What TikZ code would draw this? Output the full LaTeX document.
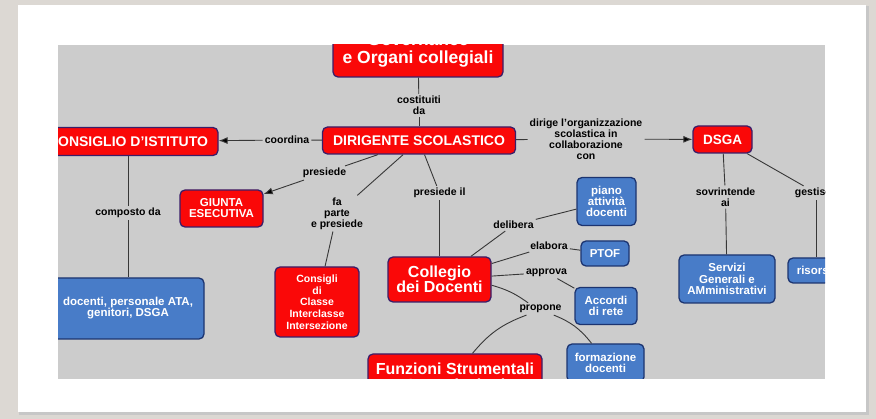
\documentclass[tikz,border=0pt]{standalone}
\usepackage{fontspec}
\setmainfont{Liberation Sans}
\usetikzlibrary{arrows.meta}
\definecolor{rosso}{RGB}{250,8,8}
\definecolor{blu}{RGB}{72,124,200}
\definecolor{bordo}{RGB}{58,30,105}
\definecolor{bordoblu}{RGB}{28,52,112}
\definecolor{sfondo}{RGB}{204,204,204}
\definecolor{linea}{RGB}{55,55,55}
\definecolor{cornice}{RGB}{220,216,211}
\tikzstyle{every picture}+=[>={Latex[length=9pt,width=7pt]}]
\tikzstyle{every picture}+=[line join=round]
\tikzstyle{organo}+=[draw=bordo, fill=rosso, text=white]
\tikzstyle{organo}+=[rounded corners=5pt, line width=1.3pt]
\tikzstyle{organo}+=[align=center, inner sep=0pt]
\tikzstyle{risorsa}+=[organo, draw=bordoblu, fill=blu]
\tikzstyle{legame}+=[align=center, inner sep=2pt]
\tikzstyle{legame}+=[font=\bfseries\fontsize{10.5}{11}\selectfont]
\tikzstyle{link}+=[draw=linea, line width=0.9pt]
\newcommand{\fsize}[2]{\bfseries\fontsize{#1}{#2}\selectfont}

\begin{document}
\begin{tikzpicture}[x=1pt,y=-1pt]
\useasboundingbox (0,0) rectangle (876,419);
% cornice della slide
\fill[cornice] (0,0) rectangle (876,419);
\fill[black!22] (19,6) rectangle (869,415);
\fill[white] (18,5) rectangle (866,412);
\fill[sfondo] (58,45) rectangle (825,379);

\begin{scope}
\clip (58,45) rectangle (825,379);
% organi
\node[organo, minimum width=170pt, minimum height=54pt, font=\fsize{17.5}{18}] (gov) at (418,50) {Governance\\e Organi collegiali};
\node[organo, minimum width=193pt, minimum height=27pt, font=\fsize{14}{15}] (dir) at (419,140.5) {DIRIGENTE SCOLASTICO};
\node[organo, minimum width=180pt, minimum height=28pt, font=\fsize{14}{15}] (cdi) at (128,141.5) {CONSIGLIO D'ISTITUTO};
\node[organo, minimum width=59pt, minimum height=27pt, font=\fsize{13.5}{14}] (dsga) at (722.5,139.5) {DSGA};
\node[organo, minimum width=83pt, minimum height=37pt, font=\fsize{11.5}{11}] (giunta) at (221.5,208.5) {GIUNTA\\ESECUTIVA};
\node[organo, minimum width=84pt, minimum height=70pt, font=\fsize{10.5}{11.7}] (consigli) at (317,302) {Consigli\\di\\Classe\\Interclasse\\Intersezione};
\node[organo, minimum width=103pt, minimum height=45pt, font=\fsize{16}{15}] (collegio) at (439.5,279.5) {Collegio\\dei Docenti};
\node[organo, minimum width=174pt, minimum height=46pt, font=\fsize{16}{16}] (funz) at (455,377) {Funzioni Strumentali\\Commissioni};

% ambiti
\node[risorsa, minimum width=152pt, minimum height=61pt, font=\fsize{11.5}{11}] (docenti) at (128,308.5) {docenti, personale ATA,\\genitori, DSGA};
\node[risorsa, minimum width=59pt, minimum height=48pt, font=\fsize{11.5}{11.3}] (piano) at (606.5,201.5) {piano\\attività\\docenti};
\node[risorsa, minimum width=48pt, minimum height=25pt, font=\fsize{11.5}{11}] (ptof) at (605,253.5) {PTOF};
\node[risorsa, minimum width=62pt, minimum height=37pt, font=\fsize{11.5}{11}] (accordi) at (606,306) {Accordi\\di rete};
\node[risorsa, minimum width=77pt, minimum height=38pt, font=\fsize{11.5}{11}] (formaz) at (605.5,363) {formazione\\docenti};
\node[risorsa, minimum width=96pt, minimum height=48pt, font=\fsize{11.5}{11.4}] (servizi) at (727,279) {Servizi\\Generali e\\AMministrativi};
\node[risorsa, minimum width=56pt, minimum height=25pt, font=\fsize{11.5}{11}] (risorse) at (816,270.5) {risorse};

% legami
\node[legame] (costituiti) at (419,105.5) {costituiti\\da};
\node[legame] (coordina) at (287,140) {coordina};
\node[legame] (dirige) at (586,139) {dirige l'organizzazione\\scolastica in\\collaborazione\\con};
\node[legame] (presiede) at (324.5,173) {presiede};
\node[legame] (faparte) at (337,213.5) {fa\\parte\\e presiede};
\node[legame] (presiedeil) at (439.5,193) {presiede il};
\node[legame] (composto) at (128,213) {composto da};
\node[legame] (delibera) at (513.5,225) {delibera};
\node[legame] (elabora) at (549,246) {elabora};
\node[legame] (approva) at (546.5,272.5) {approva};
\node[legame] (propone) at (540.5,309) {propone};
\node[legame] (sovrintende) at (725.5,197) {sovrintende\\ai};
\node[legame] (gestisce) at (816,193) {gestisce};

\path[link]
  (gov) edge (costituiti)
  (costituiti) edge (dir)
  (dir) edge (coordina)
  (coordina) edge[->] (cdi)
  (dir) edge (dirige)
  (dirige) edge[->] (dsga)
  (dir) edge (presiede)
  (presiede) edge[->] (giunta)
  (dir) edge (faparte)
  (faparte) edge (consigli)
  (dir) edge (presiedeil)
  (presiedeil) edge (collegio)
  (cdi) edge (composto)
  (composto) edge (docenti)
  (collegio) edge (delibera)
  (delibera) edge (piano)
  (collegio) edge (elabora)
  (elabora) edge (ptof)
  (collegio) edge (approva)
  (approva) edge (accordi)
  (collegio) edge[bend left=10] (propone)
  (propone) edge[bend right=15] (funz)
  (propone) edge[bend left=15] (formaz)
  (dsga) edge (sovrintende)
  (sovrintende) edge (servizi)
  (dsga) edge (gestisce)
  (gestisce) edge (risorse)
  ;
\end{scope}
\end{tikzpicture}
\end{document}
